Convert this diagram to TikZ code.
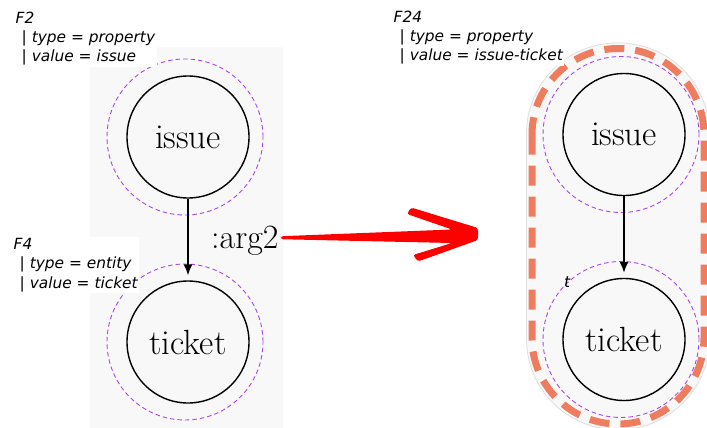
\documentclass[tikz,border=0pt]{standalone}
\usepackage{fontspec}
\newfontfamily\featfont{DejaVu Sans}
\usepackage{xcolor}
\usetikzlibrary{positioning, calc, arrows.meta, backgrounds}
\definecolor{halopurple}{RGB}{170,70,240}
\definecolor{mergeorange}{RGB}{238,125,95}
\definecolor{panelgray}{RGB}{248,248,248}

\begin{document}
\begin{tikzpicture}[x=1pt, y=-1pt, node distance=205pt, on grid,
    token/.style={circle, draw, line width=1.4pt, minimum size=122pt, inner sep=0pt,
        font=\fontsize{35}{42}\selectfont},
    halo/.style={draw=halopurple, line width=0.9pt, dash pattern=on 4.5pt off 3pt},
    feat/.style={align=left, fill=white, inner sep=1.5pt, anchor=base west,
        font=\featfont\itshape\fontsize{15.4}{19.3}\selectfont},
    arglabel/.style={inner sep=0pt, anchor=base west, font=\fontsize{34}{40}\selectfont},
    link/.style={line width=1.4pt, -{Latex[length=11pt, width=9pt]}, shorten >=5pt}]
    \useasboundingbox (0,0) rectangle (707,428);

    % Tokens before and after the merge
    \node[token] (issueL) at (188,137) {issue};
    \node[token, below=of issueL] (ticketL) {ticket};
    \node[token] (issueR) at (624,134.5) {issue};
    \node[token, below=of issueR] (ticketR) {ticket};

    % Panels behind the tokens
    \begin{scope}[on background layer]
        \fill[panelgray] (90,47) rectangle (283,428);
        \filldraw[fill=panelgray, draw=gray!25, line width=0.8pt, rounded corners=90.5pt]
            ($(issueR)+(-97.5,-91.5)$) rectangle ($(ticketR)+(85.5,90)$);
        \draw[mergeorange, line width=7pt, dash pattern=on 20pt off 11pt, rounded corners=86pt]
            ($(issueR)+(-92,-86)$) rectangle ($(ticketR)+(80,84.5)$);
    \end{scope}

    % Dashed halos
    \foreach \n in {issueL, ticketL, issueR, ticketR}
        \draw[halo] ($(\n)+(-3,0)$) circle (78pt);

    % Links
    \path[link]
        (issueL) edge (ticketL)
        (issueR) edge (ticketR);

    % Feature labels (anchored at the last line)
    \node[feat] (fTwo) at (14,61.7)
        {F2\\\hspace*{6pt}| type = property\\\hspace*{6pt}| value = issue};
    \node[feat] (fFour) at (12,288)
        {F4\\\hspace*{6pt}| type = entity\\\hspace*{6pt}| value = ticket};
    \node[feat] (fTwentyFour) at (392,60.7)
        {F24\\\hspace*{6pt}| type = property\\\hspace*{6pt}| value = issue-ticket};
    \node[feat, fill=none, inner sep=0pt] (strayT) at (564,287) {t};

    % Merge arrow
    \node[arglabel] (arg2) at (211,248) {:arg2};
    \coordinate (mergetip) at (478,234);
    \fill[red, rounded corners=2.5pt]
        ($(arg2.east)+(2,-4)$) -- ($(mergetip)+(-26,-4.5)$) -- ($(mergetip)+(-71,-20)$)
        -- ($(mergetip)+(-67,-26.5)$) -- ($(mergetip)+(0,-6)$) -- ($(mergetip)+(0,6)$)
        -- ($(mergetip)+(-60,27.5)$) -- ($(mergetip)+(-65,21)$) -- ($(mergetip)+(-26,9)$)
        -- ($(arg2.east)+(2,-1)$) -- cycle;
\end{tikzpicture}
\end{document}
